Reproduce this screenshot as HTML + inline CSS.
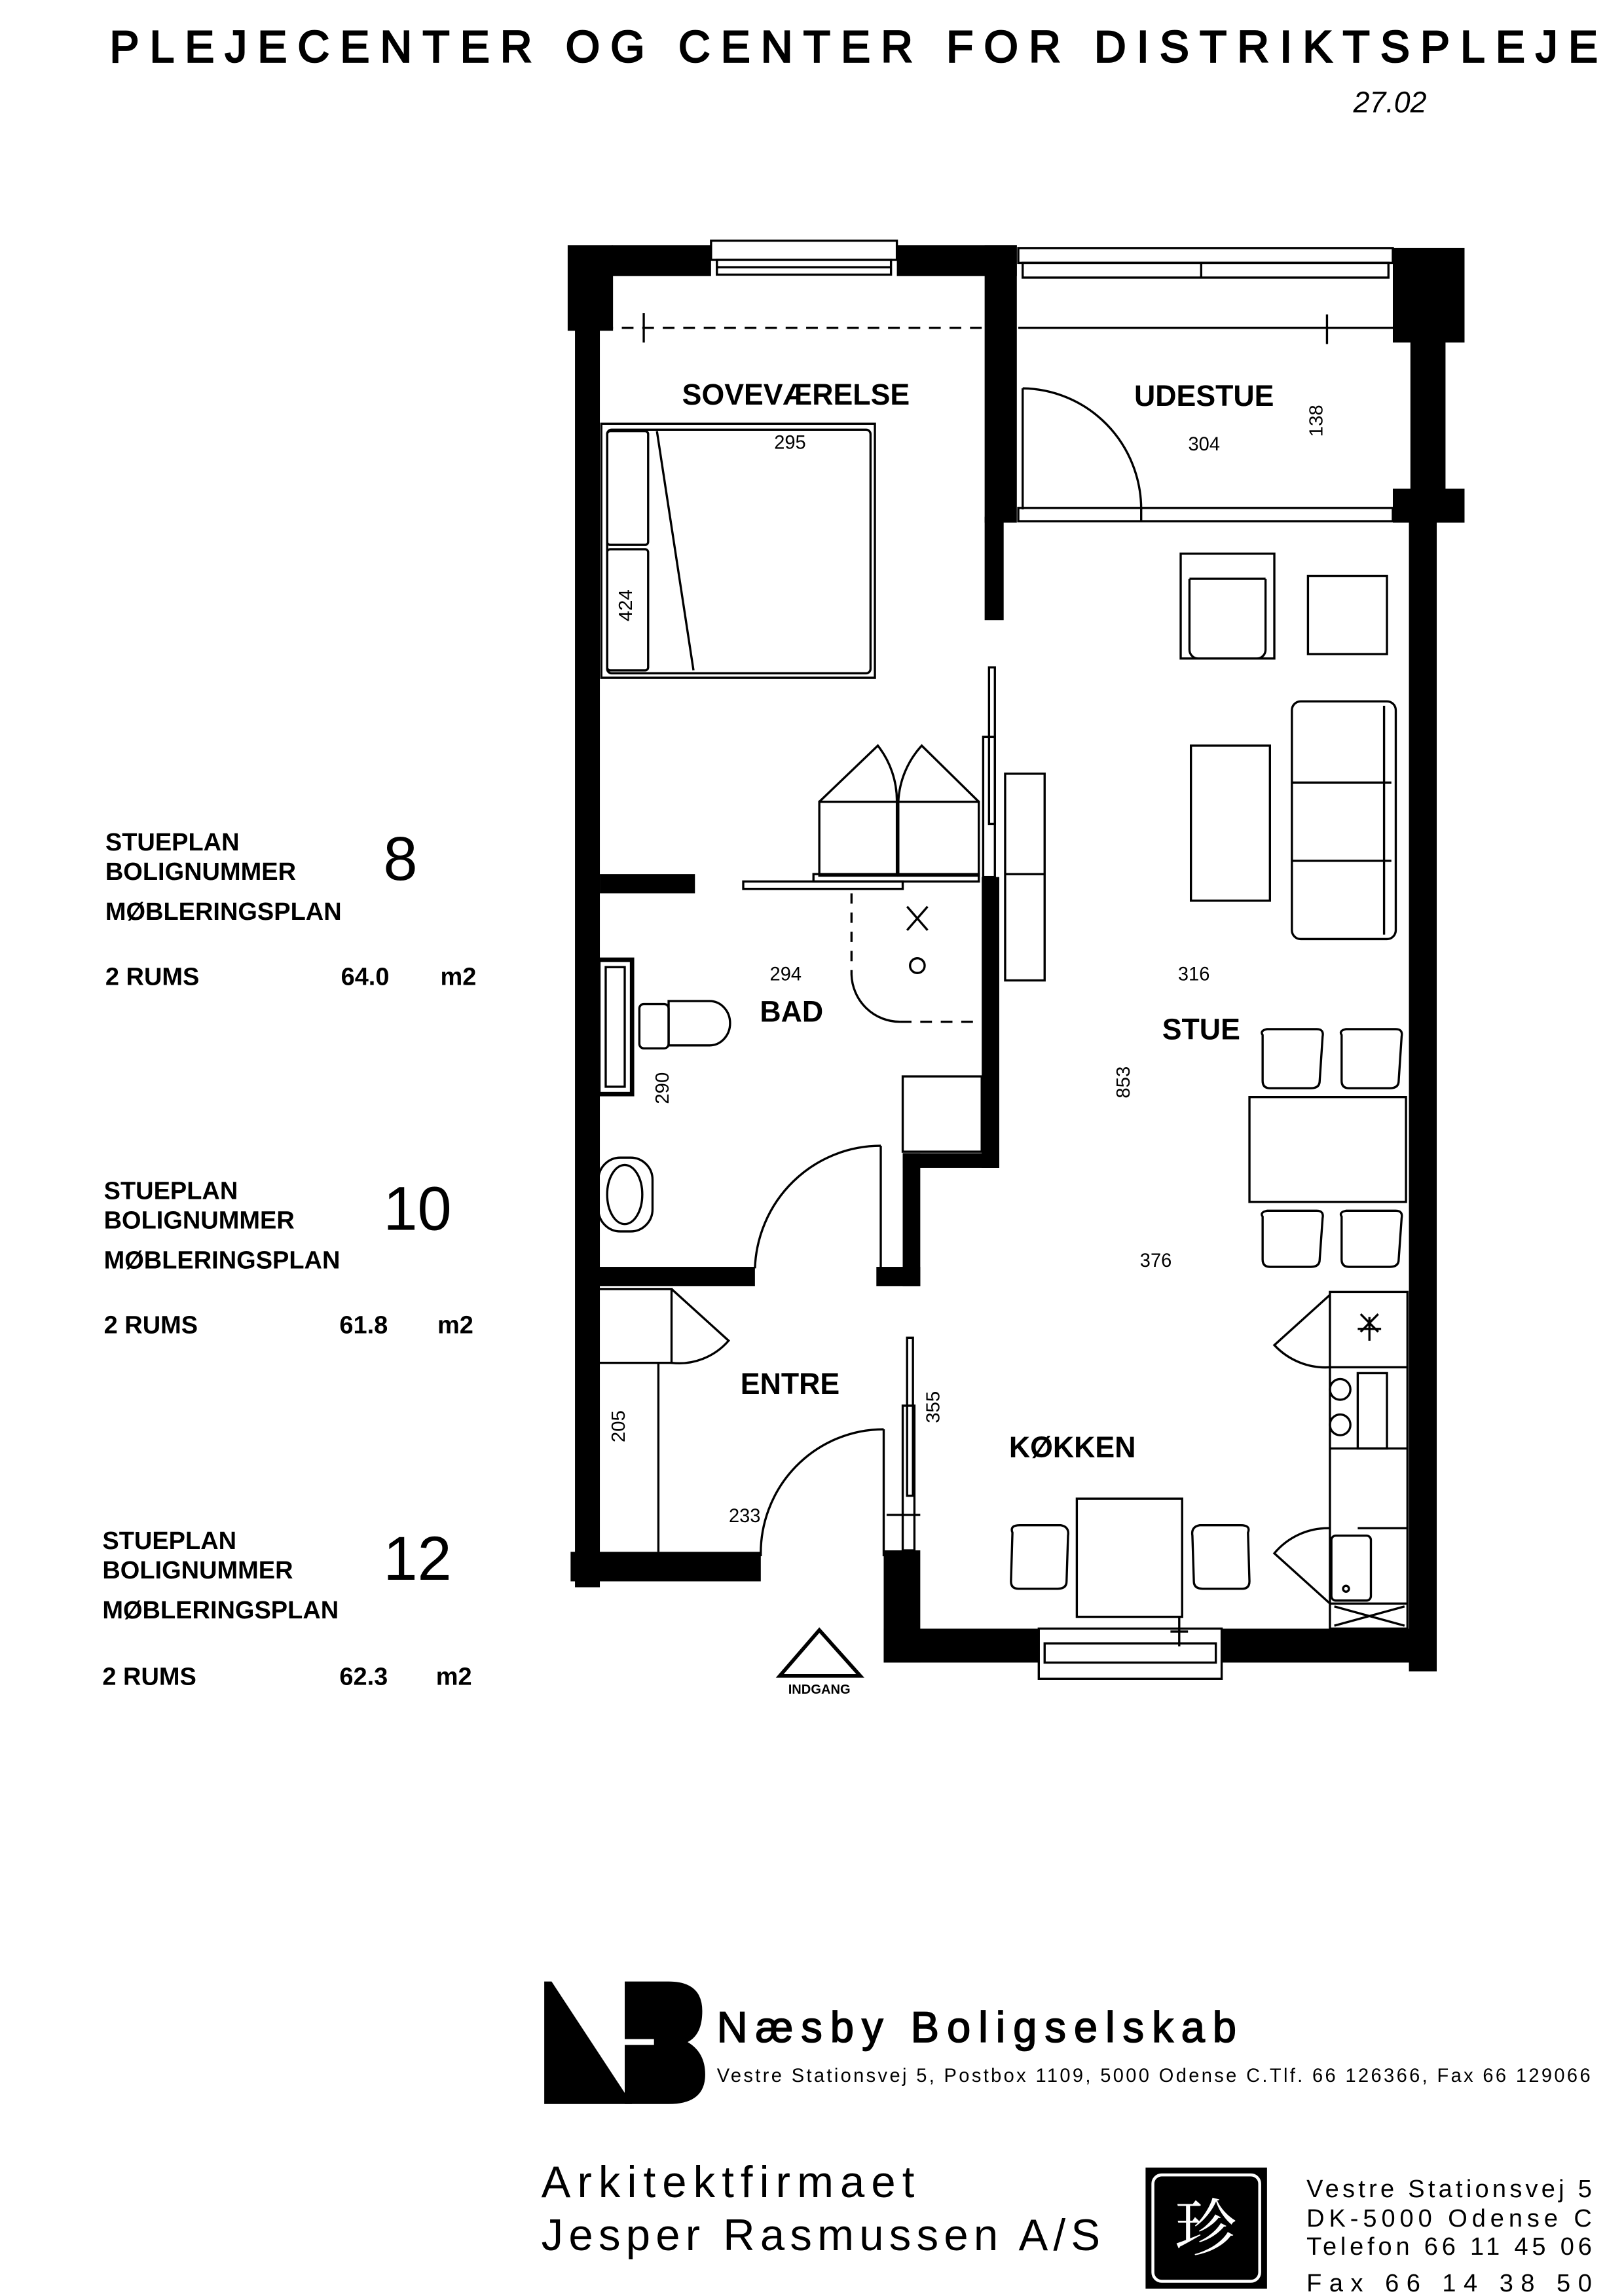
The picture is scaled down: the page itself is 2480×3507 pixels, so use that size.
<!DOCTYPE html>
<html><head><meta charset="utf-8"><style>
html,body{margin:0;padding:0;background:#fff;}
svg{display:block;}
text{font-family:"Liberation Sans",sans-serif;fill:#000;}
.b{font-weight:bold;}
</style></head><body>
<svg width="2480" height="3507" viewBox="0 0 1110 1555" preserveAspectRatio="none" xmlns="http://www.w3.org/2000/svg">
<rect width="1110" height="1555" fill="#fff"/>
<!-- Title -->
<text x="75" y="42" font-size="30" textLength="1017" lengthAdjust="spacing" stroke="#000" stroke-width="1.2">PLEJECENTER OG CENTER FOR DISTRIKTSPLEJE</text>
<text x="925" y="76" font-size="20" font-style="italic" font-family="Liberation Serif">27.02</text>

<!-- WALLS -->
<g fill="#000">
<rect x="388" y="166" width="31" height="58"/>
<rect x="393" y="222" width="17" height="853"/>
<rect x="418" y="166" width="68" height="21"/>
<rect x="613" y="166" width="82" height="21"/>
<rect x="673" y="166" width="22" height="188"/>
<rect x="673" y="350" width="13" height="70"/>
<rect x="952" y="168" width="49" height="64"/>
<rect x="964" y="230" width="24" height="103"/>
<rect x="952" y="331" width="49" height="23"/>
<rect x="963" y="352" width="19" height="780"/>
<rect x="410" y="592" width="65" height="13"/>
<rect x="671" y="594" width="12" height="197"/>
<rect x="617" y="781" width="66" height="10"/>
<rect x="617" y="781" width="12" height="90"/>
<rect x="599" y="858" width="30" height="13"/>
<rect x="409" y="858" width="107" height="13"/>
<rect x="390" y="1051" width="130" height="20"/>
<rect x="604" y="1050" width="25" height="76"/>
<rect x="604" y="1103" width="106" height="23"/>
<rect x="835" y="1103" width="146" height="23"/>
</g>

<g fill="none" stroke="#000" stroke-width="1.5">
<rect x="486" y="163" width="127" height="13" fill="#fff"/>
<rect x="490" y="176" width="119" height="10"/>
<line x1="490" y1="181" x2="609" y2="181"/>
<rect x="696" y="168" width="256" height="10"/>
<rect x="699" y="178" width="250" height="10"/>
<line x1="821" y1="178" x2="821" y2="188"/>
<rect x="696" y="344" width="256" height="9"/>
<line x1="780" y1="344" x2="780" y2="353"/>
<line x1="411" y1="222" x2="673" y2="222" stroke-dasharray="8 6"/>
<line x1="696" y1="222" x2="952" y2="222"/>
<line x1="440" y1="212" x2="440" y2="232"/>
<line x1="907" y1="213" x2="907" y2="233"/>
<line x1="699" y1="345" x2="699" y2="263"/>
<path d="M699 263 A82 82 0 0 1 780 345"/>
<rect x="411" y="287" width="187" height="172"/>
<rect x="415" y="291" width="180" height="165" rx="3"/>
<rect x="415" y="292" width="28" height="77" rx="2"/>
<rect x="415" y="372" width="28" height="82" rx="2"/>
<line x1="449" y1="292" x2="474" y2="454"/>
<rect x="676" y="452" width="4" height="106"/>
<rect x="672" y="499" width="8" height="95"/>
<rect x="560" y="543" width="53" height="50"/>
<rect x="614" y="543" width="55" height="50"/>
<path d="M560 543 L600 505 A60 60 0 0 1 613 543 M614 543 A60 60 0 0 1 630 505 L669 543"/>
<rect x="508" y="597" width="109" height="5"/>
<rect x="556" y="592" width="113" height="5"/>
<line x1="582" y1="605" x2="582" y2="660" stroke-dasharray="7 6"/>
<path d="M582 660 A33 33 0 0 0 615 692"/>
<line x1="615" y1="692" x2="671" y2="692" stroke-dasharray="8 6"/>
<circle cx="627" cy="654" r="5"/>
<path d="M620 614 L634 630 M634 614 L620 630"/>
<rect x="409" y="650" width="23" height="91" stroke-width="3"/>
<rect x="414" y="655" width="13" height="81"/>
<rect x="437" y="680" width="20" height="30" rx="3"/>
<path d="M457 678 H485 A14 15 0 0 1 485 708 H457 Z"/>
<rect x="409" y="784" width="37" height="50" rx="15"/>
<ellipse cx="427" cy="809" rx="12" ry="20"/>
<rect x="617" y="729" width="54" height="51"/>
<line x1="602" y1="859" x2="602" y2="776"/>
<path d="M602 776 A86 86 0 0 0 516 859"/>
<rect x="409" y="873" width="50" height="50"/>
<path d="M459 873 L498 908 A45 45 0 0 1 459 923"/>
<line x1="450" y1="923" x2="450" y2="1051"/>
<line x1="604" y1="1054" x2="604" y2="968"/>
<path d="M604 968 A84 84 0 0 0 520 1054"/>
<rect x="620" y="906" width="4" height="107"/>
<rect x="617" y="952" width="8" height="98"/>
<line x1="606" y1="1026" x2="629" y2="1026"/>
<rect x="710" y="1103" width="125" height="34" fill="#fff"/>
<rect x="714" y="1113" width="117" height="13"/>
<path d="M807 375 H871 V446 H807 Z M813 392 H865 M813 392 V440 A6 6 0 0 0 819 446 M865 392 V440 A6 6 0 0 1 859 446"/>
<rect x="894" y="390" width="54" height="53"/>
<rect x="814" y="505" width="54" height="105"/>
<rect x="883" y="475" width="71" height="161" rx="6"/>
<path d="M883 530 H951 M883 583 H951 M946 478 V633"/>
<rect x="687" y="524" width="27" height="140"/>
<line x1="687" y1="592" x2="714" y2="592"/>
<path d="M863 701 Q861 698 866 697 H900 Q905 697 904 702 L902 732 Q902 737 896 737 H868 Q863 737 863 732 Z"/>
<path d="M917 701 Q915 698 920 697 H954 Q959 697 958 702 L956 732 Q956 737 950 737 H922 Q917 737 917 732 Z"/>
<rect x="854" y="743" width="107" height="71"/>
<path d="M863 824 Q861 821 866 820 H900 Q905 820 904 825 L902 853 Q902 858 896 858 H868 Q863 858 863 853 Z"/>
<path d="M917 824 Q915 821 920 820 H954 Q959 820 958 825 L956 853 Q956 858 950 858 H922 Q917 858 917 853 Z"/>
<rect x="909" y="875" width="53" height="228"/>
<line x1="909" y1="926" x2="962" y2="926"/>
<line x1="909" y1="981" x2="962" y2="981"/>
<rect x="928" y="930" width="20" height="51"/>
<circle cx="916" cy="941" r="7"/><circle cx="916" cy="965" r="7"/>
<line x1="928" y1="1035" x2="962" y2="1035"/>
<rect x="910" y="1040" width="27" height="44" rx="3"/>
<circle cx="920" cy="1076" r="2"/>
<line x1="909" y1="1086" x2="962" y2="1086"/>
<path d="M912 1088 L960 1101 M912 1101 L960 1088"/>
<path d="M909 877 L871 911 A48 48 0 0 0 909 926"/>
<path d="M909 1086 L871 1052 A48 48 0 0 1 909 1035"/>
<path d="M936 900 m-8 0 h16 m-8 -8 v16 m-6 -6 l12 -12 m-12 0 l12 12"/>
<rect x="736" y="1015" width="72" height="80"/>
<path d="M692 1038 Q690 1033 697 1033 H725 Q731 1034 730 1040 L729 1071 Q729 1076 723 1076 H696 Q691 1076 691 1071 Z"/>
<path d="M815 1040 Q814 1034 820 1033 H848 Q855 1033 853 1038 L854 1071 Q854 1076 849 1076 H822 Q816 1076 816 1071 Z"/>
<path d="M806 1095 V1115 M800 1105 H812"/>
<path d="M533 1135 L560 1104 L588 1135 Z" stroke-width="2.5"/>
</g>

<g class="b" font-size="20" text-anchor="middle">
<text x="544" y="274">SOVEVÆRELSE</text>
<text x="823" y="275">UDESTUE</text>
<text x="541" y="692">BAD</text>
<text x="821" y="704">STUE</text>
<text x="540" y="944">ENTRE</text>
<text x="733" y="987">KØKKEN</text>
</g>
<g font-size="13" text-anchor="middle">
<text x="540" y="304">295</text>
<text x="823" y="305">304</text>
<text x="537" y="664">294</text>
<text x="816" y="664">316</text>
<text x="790" y="858">376</text>
<text x="509" y="1031">233</text>
<text transform="translate(904,285) rotate(-90)">138</text>
<text transform="translate(432,410) rotate(-90)">424</text>
<text transform="translate(772,733) rotate(-90)">853</text>
<text transform="translate(457,737) rotate(-90)">290</text>
<text transform="translate(642,953) rotate(-90)">355</text>
<text transform="translate(427,966) rotate(-90)">205</text>
</g>
<text x="560" y="1147" font-size="9" class="b" text-anchor="middle">INDGANG</text>

<g class="b" font-size="17">
<text x="72" y="576">STUEPLAN</text><text x="72" y="596">BOLIGNUMMER</text><text x="72" y="623">MØBLERINGSPLAN</text>
<text x="72" y="667">2  RUMS</text><text x="233" y="667">64.0</text><text x="301" y="667">m2</text>
<text x="71" y="812">STUEPLAN</text><text x="71" y="832">BOLIGNUMMER</text><text x="71" y="859">MØBLERINGSPLAN</text>
<text x="71" y="903">2  RUMS</text><text x="232" y="903">61.8</text><text x="299" y="903">m2</text>
<text x="70" y="1049">STUEPLAN</text><text x="70" y="1069">BOLIGNUMMER</text><text x="70" y="1096">MØBLERINGSPLAN</text>
<text x="70" y="1141">2  RUMS</text><text x="232" y="1141">62.3</text><text x="298" y="1141">m2</text>
</g>
<g font-size="42">
<text x="262" y="596">8</text>
<text x="262" y="833">10</text>
<text x="262" y="1070">12</text>
</g>

<g fill="#000">
<polygon points="372,1342 377,1342 432,1425 372,1425"/>
<path d="M427 1342 H457 Q480 1342 480 1362 Q480 1378 470 1383 Q482 1390 482 1405 Q482 1425 457 1425 H427 Z"/>
</g>
<rect x="427" y="1381" width="20" height="4" fill="#fff"/>
<text x="490" y="1383" font-size="29" textLength="355" lengthAdjust="spacing" stroke="#000" stroke-width="0.8">Næsby  Boligselskab</text>
<text x="490" y="1410" font-size="13" textLength="597" lengthAdjust="spacing">Vestre Stationsvej 5, Postbox 1109, 5000 Odense C.Tlf. 66 126366, Fax 66 129066</text>
<text x="370" y="1488" font-size="30" textLength="255" lengthAdjust="spacing">Arkitektfirmaet</text>
<text x="370" y="1524" font-size="30" textLength="382" lengthAdjust="spacing">Jesper Rasmussen A/S</text>
<rect x="783" y="1468" width="83" height="82" fill="#000"/>
<rect x="788" y="1473" width="73" height="72" rx="6" fill="none" stroke="#fff" stroke-width="2"/>
<text x="824" y="1524" font-size="42" text-anchor="middle" style="fill:#fff;font-family:'Noto Serif CJK SC','Noto Sans CJK SC',serif">珍</text>
<g font-size="17">
<text x="893" y="1488" textLength="195" lengthAdjust="spacing">Vestre Stationsvej 5</text>
<text x="893" y="1508" textLength="195" lengthAdjust="spacing">DK-5000 Odense C</text>
<text x="893" y="1527" textLength="195" lengthAdjust="spacing">Telefon 66 11 45 06</text>
<text x="893" y="1552" textLength="195" lengthAdjust="spacing">Fax      66 14 38 50</text>
</g>
</svg>
</body></html>
